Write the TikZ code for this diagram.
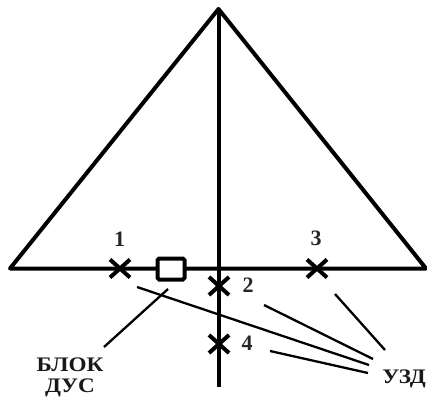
\documentclass[tikz,border=0pt]{standalone}
\usepackage{fontspec}
\setmainfont{Liberation Serif}
\newfontfamily\capfont[FakeStretch=1.12]{Liberation Serif}
\usetikzlibrary{shapes.misc}
\tikzset{
  frame/.style={line width=4pt*0.75,line join=round},
  crossmark/.style={cross out,draw,line width=4pt*0.75,minimum width=20pt*0.75,minimum height=18pt*0.75,inner sep=0pt,outer sep=0pt},
  dusbox/.style={draw,fill=white,line width=4pt*0.75,rounded corners=1.2pt,minimum width=27pt*0.75,minimum height=21pt*0.75,inner sep=0pt},
  leader/.style={line width=2.3pt*0.75},
  lbl/.style={font=\fontsize{16.5pt}{18pt}\selectfont\bfseries,inner sep=0pt,text=black!85},
  captext/.style={font=\capfont\fontsize{15.5pt}{17pt}\selectfont\bfseries,inner sep=0pt,text=black!90}
}
\begin{document}
\begin{tikzpicture}[x=0.75pt,y=-0.75pt]
\useasboundingbox (0,0) rectangle (427,399);
\coordinate (apex) at (218.5,9);
\coordinate (left) at (10,268.5);
\coordinate (right) at (426,268.5);
\coordinate (foot) at (218.5,387);
\draw[frame] (left) -- (apex) -- (right) -- cycle;
\draw[frame] (apex) -- (foot);
\node[dusbox] (dus) at (171,269) {};
\node[crossmark] (u1) at (120,268.5) {};
\node[crossmark] (u2) at (219,286) {};
\node[crossmark] (u3) at (317,268.5) {};
\node[crossmark] (u4) at (219,344) {};
\node[lbl] (n1) at (119.5,239) {1};
\node[lbl] (n2) at (248,285) {2};
\node[lbl] (n3) at (316,238) {3};
\node[lbl] (n4) at (247,343) {4};
\node[captext] (blok) at (70,365) {БЛОК};
\node[captext] (dust) at (70,388) {ДУС};
\node[captext,anchor=west] (uzd) at (382,379) {УЗД};
\coordinate (a1) at (137,287); \coordinate (b1) at (369,365);
\coordinate (a2) at (264,305); \coordinate (b2) at (373,359);
\coordinate (a3) at (335,294); \coordinate (b3) at (385,350);
\coordinate (a4) at (270,351); \coordinate (b4) at (368,373);
\coordinate (a5) at (168,289); \coordinate (b5) at (104,347);
\draw[leader] (a1) -- (b1);
\draw[leader] (a2) -- (b2);
\draw[leader] (a3) -- (b3);
\draw[leader] (a4) -- (b4);
\draw[leader] (a5) -- (b5);
\end{tikzpicture}
\end{document}
